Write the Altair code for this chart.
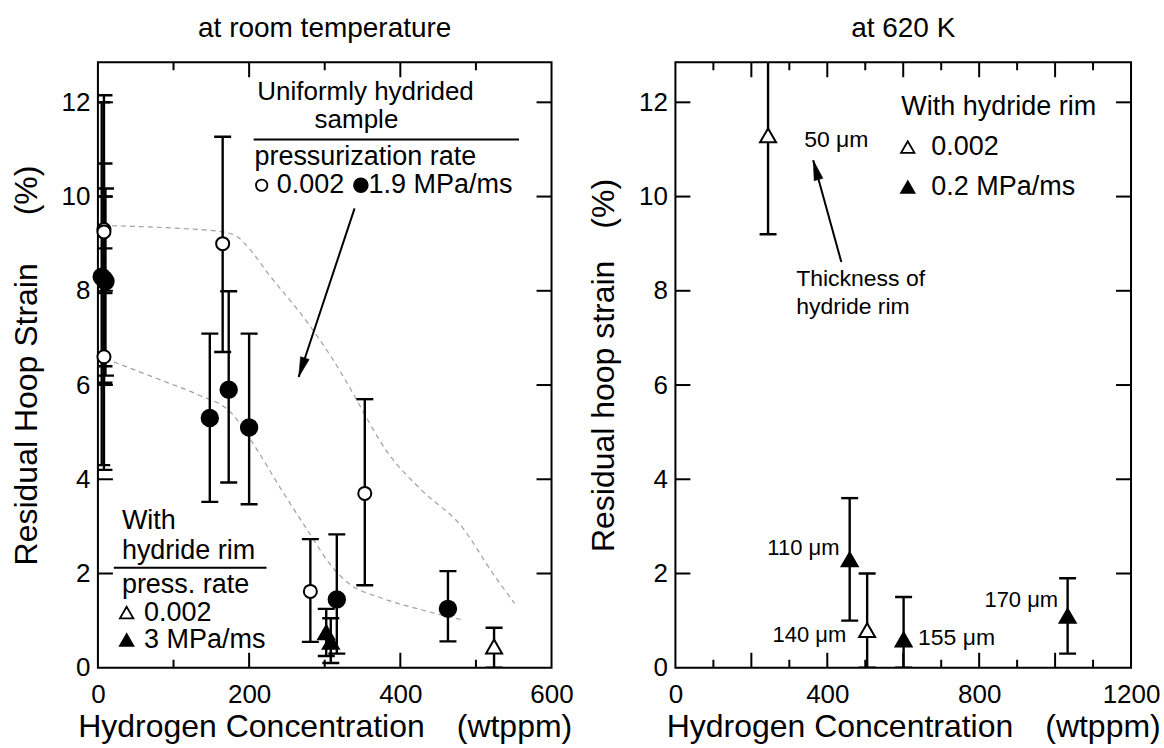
import altair as alt
import pandas as pd

FONT = "Liberation Sans"
YMAX = 12.85
W_L, W_R, H = 454, 456, 606

# ---------------- left panel: room temperature ----------------
L_kind = ["oc", "oc", "fc", "fc", "fc", "oc", "oc", "fc", "fc", "fc", "oc", "fc", "oc", "fc", "ft", "ft", "ot"]
L_x = [8, 8, 5, 10, 8, 8, 165, 148, 173, 200, 281, 316, 353, 463, 302, 308, 524]
L_y = [9.3, 9.25, 8.3, 8.2, 8.25, 6.6, 9.0, 5.3, 5.9, 5.1, 1.62, 1.45, 3.7, 1.25, 0.75, 0.55, 0.45]
L_lo = [6.4, 7.95, 4.3, 6.2, 6.05, 4.2, 6.7, 3.52, 3.93, 3.47, 0.55, 0.3, 1.75, 0.56, 0.25, 0.1, 0.0]
L_hi = [12.15, 10.7, 12.0, 10.17, 10.0, 8.9, 11.27, 7.09, 7.99, 7.09, 2.73, 2.83, 5.7, 2.05, 1.25, 1.05, 0.85]

# dashed guide curves
C1_x = [18.5, 100, 165, 184, 200, 225, 278, 322, 335, 384, 428, 481, 525, 551]
C1_y = [9.38, 9.33, 9.25, 9.15, 8.9, 8.37, 7.31, 6.25, 5.89, 4.55, 3.77, 3.0, 1.94, 1.37]
C2_x = [21, 89, 133, 177, 208, 243, 274, 313, 331, 375, 428, 481]
C2_y = [6.49, 6.07, 5.79, 5.40, 4.69, 3.77, 3.0, 2.08, 1.80, 1.48, 1.23, 1.02]

# ---------------- right panel: 620 K ----------------
R_kind = ["ot", "ft", "ot", "ft", "ft"]
R_x = [244, 459, 505, 601, 1033]
R_y = [11.3, 2.3, 0.8, 0.6, 1.1]
R_lo = [9.2, 1.0, 0.0, 0.0, 0.3]
R_hi = [13.5, 3.6, 2.0, 1.5, 1.9]

# annotation texts: (text, x, y)
L_text_center = [("Uniformly hydrided", 354, 12.22), ("sample", 342, 11.62)]
L_text_left = [("pressurization rate", 207, 10.84), ("0.002", 236.5, 10.24), ("1.9 MPa/ms", 358, 10.24),
               ("With", 31.7, 3.12), ("hydride rim", 31.7, 2.47), ("press. rate", 31.7, 1.76),
               ("0.002", 61, 1.17), ("3 MPa/ms", 61, 0.59)]
L_lines = [(206, 557, 11.21), (21, 223, 2.12)]
L_legend = [("oc", 216.6, 10.24), ("fc", 347.8, 10.24), ("ot", 38, 1.17), ("ft", 38, 0.59)]
L_arrow = (339.5, 9.75, 265.5, 6.17, 198.3)

R_text_left_big = [("With hydride rim", 595, 11.9), ("0.002", 674, 11.05), ("0.2 MPa/ms", 674, 10.2)]
R_text_left = [("50 \u03bcm", 339, 11.2), ("155 \u03bcm", 639, 0.64), ("Thickness of", 318, 8.25), ("hydride rim", 318, 7.66)]
R_text_right = [("110 \u03bcm", 432, 2.54), ("140 \u03bcm", 450, 0.70), ("170 \u03bcm", 1008, 1.44)]
R_lines = []
R_legend = [("ot", 612, 11.05), ("ft", 612, 10.2)]
R_arrow = (437, 8.61, 363, 10.77, 344.6)

Y_TICKS = [0, 2, 4, 6, 8, 10, 12]

MARK = {
    "oc": dict(shape="circle", fill="white", size=170),
    "fc": dict(shape="circle", fill="black", size=270),
    "ot": dict(shape="triangle-up", fill="white", size=256),
    "ft": dict(shape="triangle-up", fill="black", size=256),
}
LEG_SIZE = {"oc": 130, "fc": 190, "ot": 180, "ft": 180}


def panel(kind, xs_, ys_, los, his, curves, tc, tl_big, tl, tr, lines, legend, arrow,
          xmax, xlabels, xmajor, xminor, W, title, xtitle, ytitle, xtitle_x):
    xs = alt.Scale(domain=[0, xmax], nice=False, zero=False)
    ys = alt.Scale(domain=[0, YMAX], nice=False, zero=False)
    xax = alt.Axis(values=xlabels, title=xtitle, labelPadding=14, titlePadding=4, format="d",
                   labelFontSize=26, titleFontSize=32, titleFontWeight="normal", labelFlush=False,
                   ticks=False, domain=False, grid=False, titleX=xtitle_x)
    yax = alt.Axis(values=Y_TICKS, title=ytitle, labelPadding=8, titlePadding=18, format="d",
                   labelFontSize=26, titleFontSize=32, titleFontWeight="normal",
                   ticks=False, domain=False, grid=False)

    def X(f):
        return alt.X(f, type="quantitative", scale=xs, axis=xax)

    def Y(f):
        return alt.Y(f, type="quantitative", scale=ys, axis=yax)

    pts = pd.DataFrame({"kind": kind, "x": xs_, "y": ys_, "lo": los, "hi": his})
    layers = []

    if curves:
        cdf = pd.concat([pd.DataFrame({"c": i, "x": cx, "y": cy}) for i, (cx, cy) in enumerate(curves)])
        layers.append(alt.Chart(cdf).mark_line(color="#a0a0a0", strokeWidth=1.2, strokeDash=[5, 4],
                                               interpolate="monotone").encode(
            x=X("x"), y=Y("y"), detail="c:N", order="x:Q"))

    # error bars
    layers.append(alt.Chart(pts).mark_rule(color="black", strokeWidth=2.4, clip=True).encode(
        x=X("x"), y=Y("lo"), y2="hi"))
    layers.append(alt.Chart(pts).mark_tick(orient="horizontal", color="black", thickness=2.4, size=17,
                                           clip=True, opacity=1).encode(x=X("x"), y=Y("lo")))
    layers.append(alt.Chart(pts).mark_tick(orient="horizontal", color="black", thickness=2.4, size=17,
                                           clip=True, opacity=1).encode(x=X("x"), y=Y("hi")))
    # points
    for k, m in MARK.items():
        sub = pts[pts["kind"] == k]
        if len(sub):
            layers.append(alt.Chart(sub).mark_point(shape=m["shape"], filled=True, fill=m["fill"], stroke="black",
                                                    strokeWidth=2, opacity=1, size=m["size"]).encode(
                x=X("x"), y=Y("y")))
    # legend markers
    for k, lx, ly in legend:
        m = MARK[k]
        layers.append(alt.Chart(pd.DataFrame({"x": [lx], "y": [ly]})).mark_point(
            shape=m["shape"], filled=True, fill=m["fill"], stroke="black", strokeWidth=1.8, opacity=1,
            size=LEG_SIZE[k]).encode(x=X("x"), y=Y("y")))
    # legend lines
    if lines:
        ldf = pd.DataFrame(lines, columns=["x", "x2", "y"])
        layers.append(alt.Chart(ldf).mark_rule(color="black", strokeWidth=2).encode(x=X("x"), x2="x2", y=Y("y")))
    # arrow
    ax0, ay0, ax1, ay1, ang = arrow
    adf = pd.DataFrame({"x": [ax0], "y": [ay0], "x2": [ax1], "y2": [ay1]})
    layers.append(alt.Chart(adf).mark_rule(color="black", strokeWidth=2).encode(x=X("x"), x2="x2", y=Y("y"), y2="y2"))
    layers.append(alt.Chart(pd.DataFrame({"x": [ax1], "y": [ay1]})).mark_point(
        shape="M0,0L0.5,2.2L-0.5,2.2Z", angle=ang, size=330, filled=True, fill="black", stroke="black",
        strokeWidth=0.5, opacity=1).encode(x=X("x"), y=Y("y")))
    # texts
    for items, align, fs in [(tc, "center", 26), (tl_big, "left", 27), (tl, "left", 23), (tr, "right", 22)]:
        if items:
            tdf = pd.DataFrame(items, columns=["t", "x", "y"])
            layers.append(alt.Chart(tdf).mark_text(align=align, baseline="middle", fontSize=fs, font=FONT,
                                                   color="black").encode(x=X("x"), y=Y("y"), text="t:N"))
    # inside ticks (mirrored on all four sides)
    xmaj = pd.DataFrame({"t": xmajor})
    xmin = pd.DataFrame({"t": xminor})
    ytk = pd.DataFrame({"t": Y_TICKS[1:]})
    for df_, ln in [(xmaj, 15), (xmin, 8)]:
        layers.append(alt.Chart(df_).mark_rule(color="black", strokeWidth=2).encode(
            x=X("t"), y=alt.value(H), y2=alt.value(H - ln)))
        layers.append(alt.Chart(df_).mark_rule(color="black", strokeWidth=2).encode(
            x=X("t"), y=alt.value(0), y2=alt.value(ln)))
    layers.append(alt.Chart(ytk).mark_rule(color="black", strokeWidth=2).encode(
        y=Y("t"), x=alt.value(0), x2=alt.value(15)))
    layers.append(alt.Chart(ytk).mark_rule(color="black", strokeWidth=2).encode(
        y=Y("t"), x=alt.value(W), x2=alt.value(W - 15)))

    return alt.layer(*layers).properties(
        width=W, height=H,
        title=alt.TitleParams(title, fontSize=28, font=FONT, fontWeight="normal", color="black", offset=18))


left = panel(L_kind, L_x, L_y, L_lo, L_hi, [(C1_x, C1_y), (C2_x, C2_y)], L_text_center, L_text_left, [], [],
             L_lines, L_legend, L_arrow, 600, [0, 200, 400, 600], [200, 400], [100, 300, 500], W_L,
             "at room temperature", "Hydrogen Concentration\u2002\u2002(wtppm)",
             "Residual Hoop Strain\u2002\u2002\u2002(%)", W_L / 2)
right = panel(R_kind, R_x, R_y, R_lo, R_hi, [], [], R_text_left_big, R_text_left, R_text_right,
              R_lines, R_legend, R_arrow, 1200, [0, 400, 800, 1200], [200, 400, 600, 800, 1000],
              [100, 300, 500, 700, 900, 1100], W_R,
              "at 620 K", "Hydrogen Concentration\u2002\u2002(wtppm)",
              "Residual hoop strain\u2002\u2002(%)", 238)

chart = alt.hconcat(left, right, spacing=124, bounds="flush").properties(
    padding={"left": 9, "top": 14, "right": 2, "bottom": 2}, background="white"
).configure_axis(
    labelFont=FONT, titleFont=FONT, labelColor="black", titleColor="black", titleFontWeight="normal",
    ticks=False, domain=False, grid=False
).configure_view(stroke="black", strokeWidth=2)

chart.save("out.html", embed_options={"renderer": "svg", "actions": False})
